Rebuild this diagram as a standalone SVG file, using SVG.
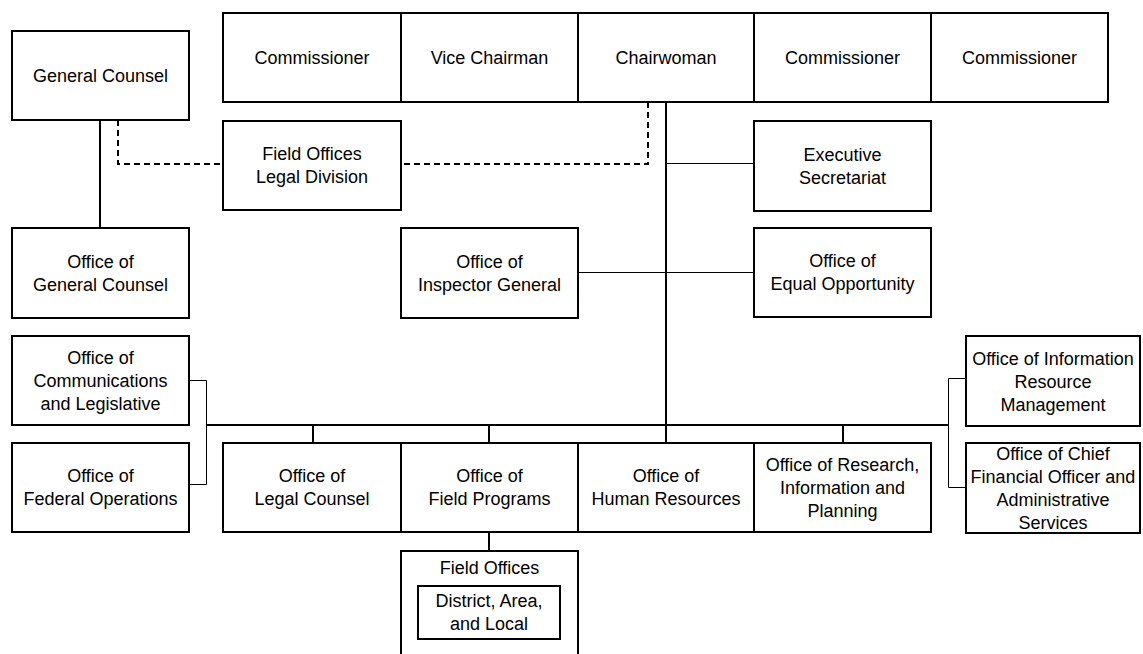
<svg xmlns="http://www.w3.org/2000/svg" width="1143" height="654" viewBox="0 0 1143 654">
<style>
.box{fill:#fff;stroke:#000;stroke-width:2}
.t{font-family:"Liberation Sans",Arial,sans-serif;font-size:18px;fill:#000;text-anchor:middle}
.thick{stroke:#000;stroke-width:2;fill:none}
.thin{stroke:#000;stroke-width:1;fill:none}
.dash{stroke:#000;stroke-width:2;fill:none;stroke-dasharray:6 4}
</style>
<rect width="1143" height="654" fill="#fff"/>
<g id="connectors">
<path class="dash" d="M118 120V164H223"/>
<path class="dash" d="M648 102V164H401"/>
<path class="thick" d="M100 120V228"/>
<path class="thick" d="M666 102V443"/>
<path class="thin" d="M666 163.5H754"/>
<path class="thin" d="M578 272.5H754"/>
<path class="thick" d="M206 425H948"/>
<path class="thick" d="M313 425V443M489 425V443M843 425V443"/>
<path class="thin" d="M189 380.5H206.5V484.5H189"/>
<path class="thin" d="M966 378.5H948.5V487.5H966"/>
<path class="thick" d="M489 532V551"/>
</g>
<g id="n-commissioner1"><rect class="box" x="223" y="13" width="178" height="89"/><text class="t" x="312" y="64">Commissioner</text></g>
<g id="n-vicechairman"><rect class="box" x="401" y="13" width="177" height="89"/><text class="t" x="489.5" y="64">Vice Chairman</text></g>
<g id="n-chairwoman"><rect class="box" x="578" y="13" width="176" height="89"/><text class="t" x="666" y="64">Chairwoman</text></g>
<g id="n-commissioner2"><rect class="box" x="754" y="13" width="177" height="89"/><text class="t" x="842.5" y="64">Commissioner</text></g>
<g id="n-commissioner3"><rect class="box" x="931" y="13" width="177" height="89"/><text class="t" x="1019.5" y="64">Commissioner</text></g>
<g id="n-generalcounsel"><rect class="box" x="12" y="31" width="177" height="89"/><text class="t" x="100.5" y="82">General Counsel</text></g>
<g id="n-fieldlegal"><rect class="box" x="223" y="121" width="178" height="89"/><text class="t" x="312" y="160">Field Offices</text><text class="t" x="312" y="183">Legal Division</text></g>
<g id="n-execsec"><rect class="box" x="754" y="121" width="177" height="90"/><text class="t" x="842.5" y="160.5">Executive</text><text class="t" x="842.5" y="183.5">Secretariat</text></g>
<g id="n-ogc"><rect class="box" x="12" y="228" width="177" height="90"/><text class="t" x="100.5" y="267.5">Office of</text><text class="t" x="100.5" y="290.5">General Counsel</text></g>
<g id="n-oig"><rect class="box" x="401" y="228" width="177" height="90"/><text class="t" x="489.5" y="267.5">Office of</text><text class="t" x="489.5" y="290.5">Inspector General</text></g>
<g id="n-oeo"><rect class="box" x="754" y="228" width="177" height="89"/><text class="t" x="842.5" y="267">Office of</text><text class="t" x="842.5" y="290">Equal Opportunity</text></g>
<g id="n-ocl"><rect class="box" x="12" y="336" width="177" height="89"/><text class="t" x="100.5" y="364">Office of</text><text class="t" x="100.5" y="387">Communications</text><text class="t" x="100.5" y="410">and Legislative</text></g>
<g id="n-ofo"><rect class="box" x="12" y="443" width="177" height="89"/><text class="t" x="100.5" y="482">Office of</text><text class="t" x="100.5" y="505">Federal Operations</text></g>
<g id="n-olc"><rect class="box" x="223" y="443" width="178" height="89"/><text class="t" x="312" y="482">Office of</text><text class="t" x="312" y="505">Legal Counsel</text></g>
<g id="n-ofp"><rect class="box" x="401" y="443" width="177" height="89"/><text class="t" x="489.5" y="482">Office of</text><text class="t" x="489.5" y="505">Field Programs</text></g>
<g id="n-ohr"><rect class="box" x="578" y="443" width="176" height="89"/><text class="t" x="666" y="482">Office of</text><text class="t" x="666" y="505">Human Resources</text></g>
<g id="n-orip"><rect class="box" x="754" y="443" width="177" height="89"/><text class="t" x="842.5" y="471">Office of Research,</text><text class="t" x="842.5" y="494">Information and</text><text class="t" x="842.5" y="517">Planning</text></g>
<g id="n-oirm"><rect class="box" x="966" y="336" width="174" height="90"/><text class="t" x="1053" y="365">Office of Information</text><text class="t" x="1053" y="388">Resource</text><text class="t" x="1053" y="411">Management</text></g>
<g id="n-ocfo"><rect class="box" x="966" y="443" width="174" height="90"/><text class="t" x="1053" y="460">Office of Chief</text><text class="t" x="1053" y="483">Financial Officer and</text><text class="t" x="1053" y="506">Administrative</text><text class="t" x="1053" y="529">Services</text></g>
<g id="n-fieldoffices"><rect class="box" x="401" y="551" width="177" height="110"/><text class="t" x="489.5" y="574">Field Offices</text><rect class="box" x="418" y="586" width="142" height="53"/><text class="t" x="489" y="607">District, Area,</text><text class="t" x="489" y="630">and Local</text></g>
</svg>
